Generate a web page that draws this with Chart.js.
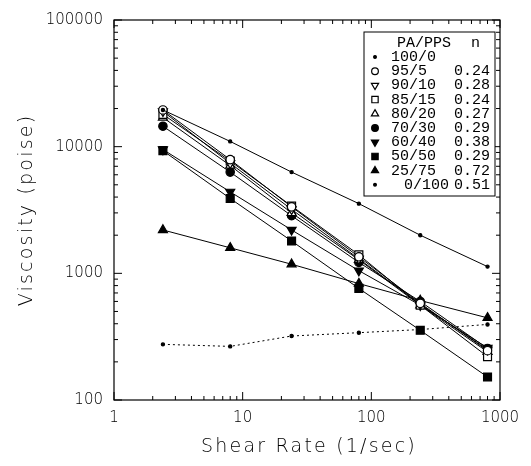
<!DOCTYPE html>
<html>
<head>
<meta charset="utf-8">
<script src="https://cdn.jsdelivr.net/npm/chart.js@4/dist/chart.umd.min.js"></script>
<style>
  html, body { margin: 0; padding: 0; background: #fff; }
</style>
</head>
<body>
<canvas id="viscChart" width="531" height="466"></canvas>
<script>
// Data
// **************************************
const shearRates = [2.4, 8, 24, 80, 240, 800];
const blendLabels = ['100/0', '95/5', '90/10', '85/15', '80/20', '70/30', '60/40', '50/50', '25/75', '0/100'];
const nValues = ['', '0.24', '0.28', '0.24', '0.27', '0.29', '0.38', '0.29', '0.72', '0.51'];

const visc100_0 = [19500, 11000, 6300, 3550, 2000, 1130];
const visc95_5 = [19500, 7900, 3350, 1350, 580, 245];
const visc90_10 = [19000, 7400, 3200, 1300, 570, 250];
const visc85_15 = [18000, 7700, 3400, 1400, 560, 220];
const visc80_20 = [17000, 7100, 3000, 1280, 560, 240];
const visc70_30 = [14500, 6300, 2850, 1220, 600, 255];
const visc60_40 = [9500, 4400, 2200, 1050, 560, 258];
const visc50_50 = [9300, 3900, 1800, 760, 355, 152];
const visc25_75 = [2200, 1590, 1180, 830, 610, 445];
const visc0_100 = [275, 265, 320, 340, 360, 395];

const seriesValues = [visc100_0, visc95_5, visc90_10, visc85_15, visc80_20,
  visc70_30, visc60_40, visc50_50, visc25_75, visc0_100];

const xTicks = [1, 10, 100, 1000];
const yTicks = [100, 1000, 10000, 100000];

const xTitle = 'Shear Rate (1/sec)';
const yTitle = 'Viscosity (poise)';

// Marker styles, one per blend
const markerStyles = [
  { style: 'circle', rotation: 0, radius: 1.6, fill: '#000', dash: [] },
  { style: 'circle', rotation: 0, radius: 4.2, fill: '#fff', dash: [] },
  { style: 'triangle', rotation: 180, radius: 5.2, fill: '#fff', dash: [] },
  { style: 'rect', rotation: 0, radius: 5.6, fill: '#fff', dash: [] },
  { style: 'triangle', rotation: 0, radius: 5.2, fill: '#fff', dash: [] },
  { style: 'circle', rotation: 0, radius: 4.2, fill: '#000', dash: [] },
  { style: 'triangle', rotation: 180, radius: 5.2, fill: '#000', dash: [] },
  { style: 'rect', rotation: 0, radius: 5.6, fill: '#000', dash: [] },
  { style: 'triangle', rotation: 0, radius: 5.2, fill: '#000', dash: [] },
  { style: 'circle', rotation: 0, radius: 1.6, fill: '#000', dash: [2, 3] },
];

const datasets = seriesValues.map((vals, i) => ({
  label: blendLabels[i],
  data: vals.map((v, j) => ({ x: shearRates[j], y: v })),
  borderColor: '#000',
  borderWidth: 1,
  borderDash: markerStyles[i].dash,
  pointStyle: markerStyles[i].style,
  rotation: markerStyles[i].rotation,
  pointRadius: markerStyles[i].radius,
  pointBackgroundColor: markerStyles[i].fill,
  pointBorderColor: '#000',
  pointBorderWidth: 1.2,
  tension: 0,
  fill: false,
}));

const titleFont = '200 19px "DejaVu Sans", sans-serif';

// Frame with inward ticks on all four sides, plus axis titles
// **************************************
const framePlugin = {
  id: 'frame',
  afterDraw(chart) {
    const { ctx, chartArea: a, scales } = chart;
    ctx.save();
    ctx.strokeStyle = '#000';
    ctx.lineWidth = 1.2;
    ctx.strokeRect(a.left, a.top, a.right - a.left, a.bottom - a.top);
    ctx.lineWidth = 1;
    ctx.beginPath();
    const tickSet = (min, max) => {
      const out = [];
      for (let d = min; d < max; d *= 10) {
        for (let k = 1; k < 10; k++) out.push({ v: d * k, major: k === 1 });
      }
      out.push({ v: max, major: true });
      return out;
    };
    tickSet(1, 1000).forEach((t) => {
      const px = scales.x.getPixelForValue(t.v);
      const len = t.major ? 8 : 4;
      ctx.moveTo(px, a.bottom);
      ctx.lineTo(px, a.bottom - len);
      ctx.moveTo(px, a.top);
      ctx.lineTo(px, a.top + len);
    });
    tickSet(100, 100000).forEach((t) => {
      const py = scales.y.getPixelForValue(t.v);
      const len = t.major ? 8 : 4;
      ctx.moveTo(a.left, py);
      ctx.lineTo(a.left + len, py);
      ctx.moveTo(a.right, py);
      ctx.lineTo(a.right - len, py);
    });
    ctx.stroke();

    // axis titles, spaced out like the plotter lettering
    ctx.fillStyle = '#000';
    ctx.font = titleFont;
    ctx.letterSpacing = '2.2px';
    ctx.textAlign = 'center';
    ctx.textBaseline = 'middle';
    ctx.fillText(xTitle, (a.left + a.right) / 2 + 2, 447);
    ctx.translate(27, (a.top + a.bottom) / 2);
    ctx.rotate(-Math.PI / 2);
    ctx.fillText(yTitle, 0, 0);
    ctx.restore();
  },
};

// Legend box in the top right corner
// **************************************
const tableLegend = {
  id: 'tableLegend',
  afterDraw(chart) {
    const { ctx, chartArea: a } = chart;
    const right = a.right - 5;
    const left = right - 131;
    const top = a.top + 12;
    const rowH = 14.2;
    const bottom = top + 22 + rowH * blendLabels.length;
    ctx.save();
    ctx.fillStyle = '#fff';
    ctx.fillRect(left, top, right - left, bottom - top);
    ctx.strokeStyle = '#000';
    ctx.lineWidth = 1;
    ctx.strokeRect(left, top, right - left, bottom - top);
    ctx.fillStyle = '#000';
    ctx.font = '15px "Liberation Mono", monospace';
    ctx.textBaseline = 'middle';
    ctx.textAlign = 'left';
    ctx.fillText('PA/PPS', left + 33, top + 11);
    ctx.fillText('n', left + 107, top + 11);
    blendLabels.forEach((lab, i) => {
      const y = top + 25 + i * rowH;
      const m = markerStyles[i];
      ctx.fillStyle = m.fill;
      ctx.strokeStyle = '#000';
      ctx.lineWidth = 1.2;
      const r = m.radius > 2 ? m.radius * 0.8 : 1.4;
      if (Chart.helpers && Chart.helpers.drawPoint) {
        Chart.helpers.drawPoint(ctx, { pointStyle: m.style, rotation: m.rotation, radius: r, borderWidth: 1.2 }, left + 11, y);
      }
      ctx.fillStyle = '#000';
      ctx.textAlign = 'left';
      ctx.fillText(lab, left + (lab === '0/100' ? 40 : 27), y);
      ctx.textAlign = 'right';
      ctx.fillText(nValues[i], right - 5, y);
    });
    ctx.restore();
  },
};

// Config
// **************************************
const config = {
  type: 'line',
  data: { datasets: datasets },
  options: {
    responsive: false,
    animation: false,
    devicePixelRatio: 1,
    layout: { padding: { left: 0, right: 31, top: 13, bottom: 0 } },
    plugins: {
      legend: { display: false },
      tooltip: { enabled: false },
    },
    scales: {
      x: {
        type: 'logarithmic',
        min: 1,
        max: 1000,
        grid: { display: false, drawTicks: false },
        border: { display: false },
        afterBuildTicks: (scale) => {
          scale.ticks = xTicks.map((v) => ({ value: v }));
        },
        afterFit: (scale) => {
          scale.height = 66;
        },
        ticks: {
          autoSkip: false,
          maxRotation: 0,
          padding: 9,
          color: '#000',
          font: { family: 'DejaVu Sans', size: 15, weight: 200 },
          callback: (value) => String(value),
        },
      },
      y: {
        type: 'logarithmic',
        min: 100,
        max: 100000,
        grid: { display: false, drawTicks: false },
        border: { display: false },
        afterBuildTicks: (scale) => {
          scale.ticks = yTicks.map((v) => ({ value: v }));
        },
        afterFit: (scale) => {
          scale.width = 114;
        },
        ticks: {
          autoSkip: false,
          padding: 11,
          color: '#000',
          font: { family: 'DejaVu Sans', size: 15, weight: 200 },
          callback: (value) => String(value),
        },
      },
    },
  },
  plugins: [framePlugin, tableLegend],
};

// Render
new Chart(document.getElementById('viscChart'), config);
</script>
</body>
</html>
